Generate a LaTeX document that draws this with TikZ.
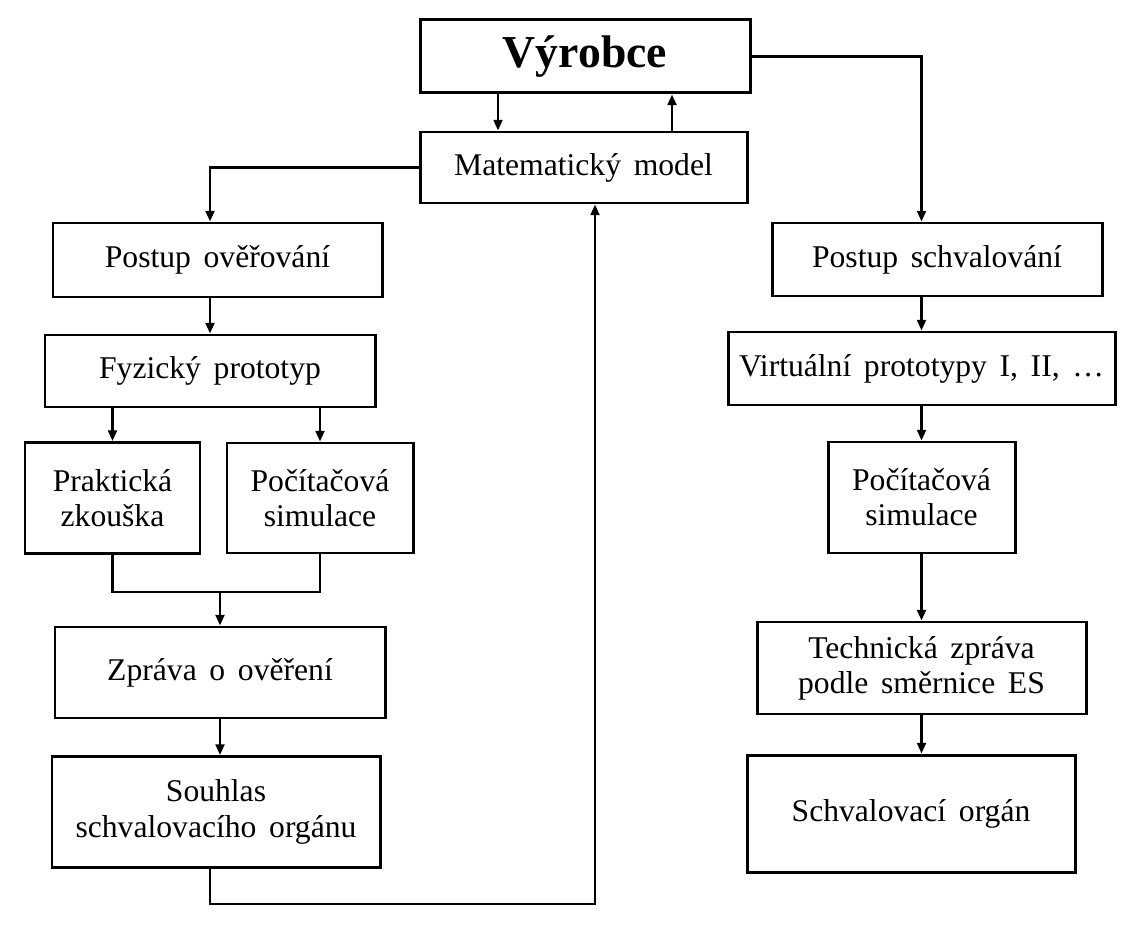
\documentclass[tikz,border=0pt]{standalone}
\usepackage{fontspec}
\setmainfont[WordSpace=1.6]{Liberation Serif}
\usepackage{tikz}
\usetikzlibrary{
  arrows.meta,
  positioning
}

\begin{document}
\begin{tikzpicture}[
  every node/.style={font=\fontsize{18}{20}\selectfont},
  box/.style={draw, line width=1.7pt, align=center, inner sep=2pt},
  arr/.style={line width=1.3pt, -{Triangle[length=6pt,width=5pt]}},
  conn/.style={line width=1.3pt}
]
\useasboundingbox (0,0) rectangle (22.76,-18.66);

% top boxes
\node[box, minimum width=6.60cm, minimum height=1.46cm,
      font=\fontsize{26}{28}\selectfont\bfseries] (vyrobce) at (11.70,-1.13) {Výrobce};
\node[box, minimum width=6.54cm, minimum height=1.42cm] (model) at (11.67,-3.35) {Matematický model};

% left column (overovani)
\node[box, minimum width=6.58cm, minimum height=1.48cm] (overovani) at (4.35,-5.20) {Postup ověřování};
\node[box, minimum width=6.60cm, minimum height=1.44cm] (fyzicky)   at (4.20,-7.42) {Fyzický prototyp};
\node[box, minimum width=3.50cm, minimum height=2.22cm] (prakticka) at (2.25,-9.96) {Praktická\\zkouška};
\node[box, minimum width=3.72cm, minimum height=2.20cm] (simulaceL) at (6.40,-9.96) {Počítačová\\simulace};
\node[box, minimum width=6.60cm, minimum height=1.82cm] (zprava)    at (4.40,-13.45) {Zpráva o ověření};
\node[box, minimum width=6.56cm, minimum height=2.22cm] (souhlas)   at (4.32,-16.24) {Souhlas\\schvalovacího orgánu};

% right column (schvalovani)
\node[box, minimum width=6.60cm, minimum height=1.46cm] (schvalovani) at (18.74,-5.19) {Postup schvalování};
\node[box, minimum width=7.74cm, minimum height=1.46cm] (virtualni)   at (18.43,-7.37) {Virtuální prototypy I, II, \dots};
\node[box, minimum width=3.74cm, minimum height=2.22cm] (simulaceR)   at (18.43,-9.95) {Počítačová\\simulace};
\node[box, minimum width=6.58cm, minimum height=1.84cm] (technicka)   at (18.43,-13.36) {Technická zpráva\\podle směrnice ES};
\node[box, minimum width=6.56cm, minimum height=2.34cm] (organ)       at (18.22,-16.27) {Schvalovací orgán};

% vyrobce <-> model
\draw[arr] ([xshift=-1.74cm]vyrobce.south) -- ([xshift=-1.74cm]vyrobce.south |- model.north);
\draw[arr] ([xshift=1.74cm]vyrobce.south |- model.north) -- ([xshift=1.74cm]vyrobce.south);

% branches to both procedures
\draw[arr] (model.west) -| (overovani.north -| fyzicky.north);
\draw[arr] (vyrobce.east) -| (schvalovani.north -| virtualni.north);

% left chain
\draw[arr] (overovani.south -| fyzicky.north) -- (fyzicky.north);
\draw[arr] (fyzicky.south -| prakticka.north) -- (prakticka.north);
\draw[arr] (fyzicky.south -| simulaceL.north) -- (simulaceL.north);
\draw[conn] (prakticka.south) -- ++(0,-0.74) coordinate (spoj) -| (simulaceL.south);
\draw[arr] (spoj -| zprava.north) -- (zprava.north);
\draw[arr] (zprava.south) -- (zprava.south |- souhlas.north);

% feedback loop back to model
\draw[arr] ([xshift=-0.12cm]souhlas.south) -- ++(0,-0.70) -| ([xshift=0.23cm]model.south);

% right chain
\draw[arr] (schvalovani.south -| virtualni.north) -- (virtualni.north);
\draw[arr] (virtualni.south) -- (simulaceR.north);
\draw[arr] (simulaceR.south) -- (technicka.north);
\draw[arr] (technicka.south) -- (technicka.south |- organ.north);
\end{tikzpicture}
\end{document}
